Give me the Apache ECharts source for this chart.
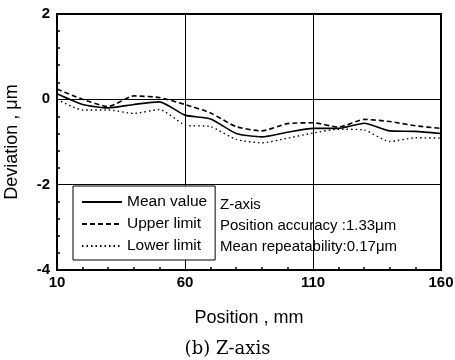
<!DOCTYPE html>
<html>
<head>
<meta charset="utf-8">
<script src="https://cdn.jsdelivr.net/npm/echarts@6/dist/echarts.min.js"></script>
<style>
    html, body { margin: 0; padding: 0; background: #fff; }
</style>
</head>
<body>
<div id="chart" style="width:455px;height:360px;"></div>
<script>
// positions along the Z axis (mm)
var positions = [10, 20, 30, 40, 50, 60, 70, 80, 90, 100, 110, 120, 130, 140, 150, 160];
// deviations (um)
var meanValue = [0.13, -0.12, -0.20, -0.12, -0.06, -0.37, -0.46, -0.80, -0.88, -0.77, -0.68, -0.68, -0.56, -0.74, -0.75, -0.80];
var upperLimit = [0.24, 0.00, -0.17, 0.08, 0.04, -0.12, -0.32, -0.64, -0.74, -0.57, -0.55, -0.65, -0.47, -0.52, -0.62, -0.68];
var lowerLimit = [0.00, -0.25, -0.25, -0.33, -0.24, -0.60, -0.64, -0.94, -1.02, -0.91, -0.79, -0.70, -0.72, -0.99, -0.90, -0.91];
var seriesNames = ['Mean value', 'Upper limit', 'Lower limit'];
var infoLines = ['Z-axis', 'Position accuracy :1.33\u03bcm', 'Mean repeatability:0.17\u03bcm'];

function pairs(vals) {
    return positions.map(function (p, i) { return [p, vals[i]]; });
}

var font = 'Arial, "Liberation Sans", sans-serif';
var chart = echarts.init(document.getElementById('chart'));

var option = {
    backgroundColor: '#fff',
    animation: false,
    grid: {
        left: 57, right: 14, top: 14, bottom: 90,
        outerBoundsMode: 'none',
        show: true,
        borderColor: '#000',
        borderWidth: 2
    },
    legend: {
        orient: 'vertical',
        left: 73,
        top: 186,
        data: seriesNames,
        itemWidth: 40,
        itemHeight: 10,
        itemGap: 6,
        padding: [8, 8, 6, 8],
        borderColor: '#000',
        borderWidth: 1,
        backgroundColor: '#fff',
        itemStyle: { opacity: 0 },
        textStyle: { fontFamily: font, fontSize: 15.5, color: '#000' }
    },
    xAxis: {
        type: 'value',
        min: 10,
        max: 160,
        interval: 50,
        name: 'Position , mm',
        nameLocation: 'middle',
        nameGap: 39,
        nameTextStyle: { fontFamily: font, fontSize: 18, color: '#000' },
        axisLine: { show: false, onZero: false },
        axisTick: { show: false, inside: true },
        minorTick: { show: true, splitNumber: 5, length: 3, lineStyle: { color: '#000', width: 1.5 } },
        splitLine: { show: true, lineStyle: { color: '#000', width: 1 } },
        axisLabel: { fontFamily: font, fontSize: 15, fontWeight: 'bold', color: '#000', margin: 5 }
    },
    yAxis: {
        type: 'value',
        min: -4,
        max: 2,
        interval: 2,
        name: 'Deviation , \u03bcm',
        nameLocation: 'middle',
        nameGap: 36,
        nameTextStyle: { fontFamily: font, fontSize: 18, color: '#000' },
        axisLine: { show: false, onZero: false },
        axisTick: { show: false, inside: true },
        minorTick: { show: true, splitNumber: 5, length: 3, lineStyle: { color: '#000', width: 1.5 } },
        splitLine: { show: true, lineStyle: { color: '#000', width: 1 } },
        axisLabel: { fontFamily: font, fontSize: 15, fontWeight: 'bold', color: '#000', margin: 7 }
    },
    graphic: [
        {
            type: 'text',
            left: 220,
            top: 194,
            style: {
                text: infoLines.join('\n'),
                font: '15px ' + font,
                lineHeight: 21,
                fill: '#000'
            }
        },
        {
            type: 'text',
            left: 'center',
            top: 340,
            style: {
                text: '(b) Z-axis',
                font: '18px "DejaVu Serif", serif',
                fill: '#000'
            }
        }
    ],
    series: [
        {
            name: seriesNames[0],
            type: 'line',
            data: pairs(meanValue),
            symbol: 'none',
            smooth: 0.2,
            lineStyle: { color: '#000', width: 1.6, type: 'solid' },
            itemStyle: { color: '#000' }
        },
        {
            name: seriesNames[1],
            type: 'line',
            data: pairs(upperLimit),
            symbol: 'none',
            smooth: 0.2,
            lineStyle: { color: '#000', width: 1.6, type: [5, 3] },
            itemStyle: { color: '#000' }
        },
        {
            name: seriesNames[2],
            type: 'line',
            data: pairs(lowerLimit),
            symbol: 'none',
            smooth: 0.2,
            lineStyle: { color: '#000', width: 1.4, type: [1.5, 3] },
            itemStyle: { color: '#000' }
        }
    ]
};
chart.setOption(option);
</script>
</body>
</html>
